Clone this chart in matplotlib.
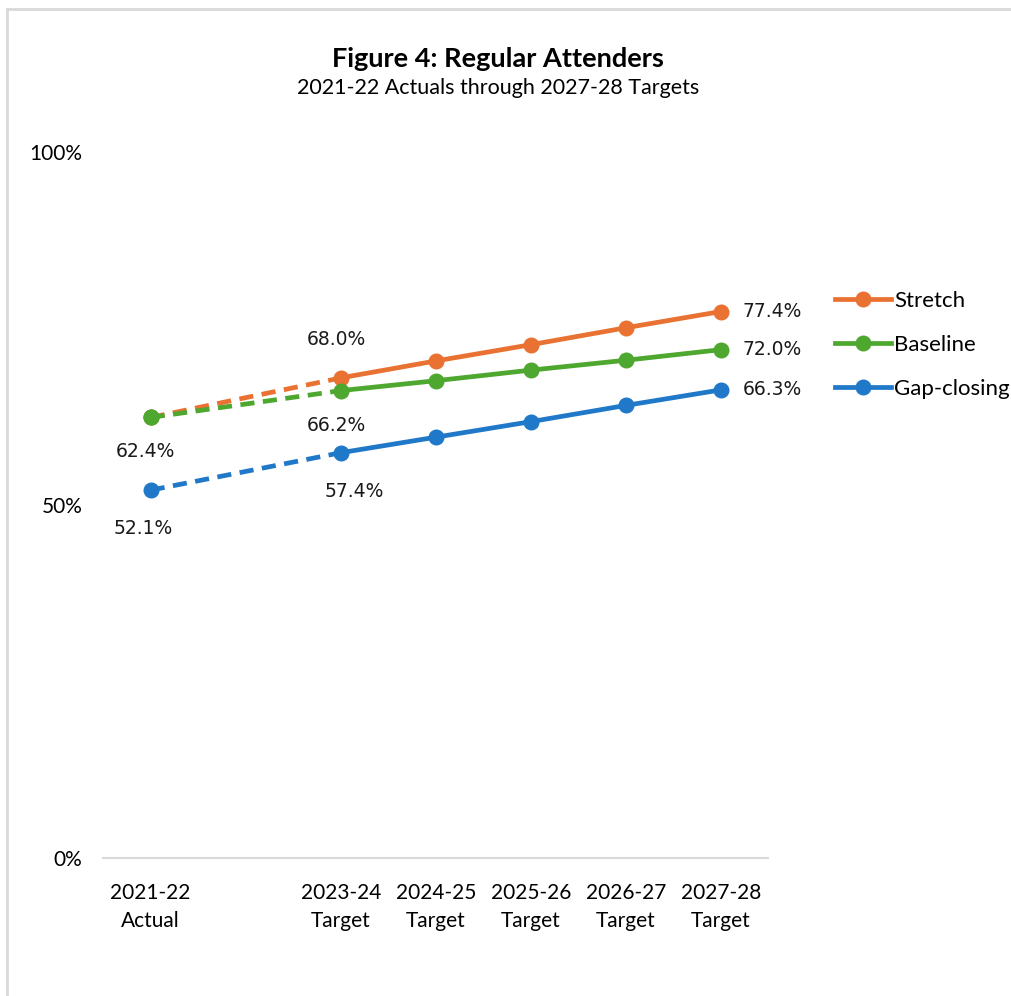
import matplotlib
matplotlib.use("Agg")
import matplotlib.pyplot as plt
from matplotlib.lines import Line2D

years = ["2021-22\nActual", "2023-24\nTarget", "2024-25\nTarget",
         "2025-26\nTarget", "2026-27\nTarget", "2027-28\nTarget"]
x_pos = [0, 2, 3, 4, 5, 6]
stretch = [62.4, 68.0, 70.4, 72.7, 75.1, 77.4]
baseline = [62.4, 66.2, 67.6, 69.1, 70.5, 72.0]
gap_closing = [52.1, 57.4, 59.6, 61.8, 64.1, 66.3]

series = [("Stretch", stretch, "#E97132"),
          ("Baseline", baseline, "#4EA72E"),
          ("Gap-closing", gap_closing, "#1F78C8")]

narrow = ["Lato", "DejaVu Sans"]
labfont = ["DejaVu Sans"]

fig = plt.figure(figsize=(10.11, 9.96), dpi=100)
ax = fig.add_axes([0.102, 0.1386, 0.658, 0.7088])

handles = []
for name, vals, col in series:
    # dashed link from the actual year to the first target
    ax.plot(x_pos[:2], vals[:2], color=col, lw=3.4, ls=(0, (3.0, 1.8)),
            dash_capstyle="butt", zorder=2)
    ax.plot(x_pos[1:], vals[1:], color=col, lw=3.4, zorder=3)
    ax.plot(x_pos, vals, ls="none", marker="o", ms=10.5, color=col, zorder=4)
    handles.append(Line2D([], [], color=col, lw=3.4, marker="o", ms=10.5))

# green actual point sits on top of orange
ax.plot([x_pos[0]], [baseline[0]], ls="none", marker="o", ms=10.5,
        color="#4EA72E", zorder=5)

lab = dict(fontsize=13.5, family=labfont, color="#1a1a1a")
ax.annotate(f"{baseline[0]:.1f}%", (x_pos[0], baseline[0]), xytext=(-5, -34),
            textcoords="offset pixels", ha="center", va="center", **lab)
ax.annotate(f"{gap_closing[0]:.1f}%", (x_pos[0], gap_closing[0]), xytext=(-7, -38),
            textcoords="offset pixels", ha="center", va="center", **lab)
ax.annotate(f"{stretch[1]:.1f}%", (x_pos[1], stretch[1]), xytext=(-4, 38),
            textcoords="offset pixels", ha="center", va="center", **lab)
ax.annotate(f"{baseline[1]:.1f}%", (x_pos[1], baseline[1]), xytext=(-4, -35),
            textcoords="offset pixels", ha="center", va="center", **lab)
ax.annotate(f"{gap_closing[1]:.1f}%", (x_pos[1], gap_closing[1]), xytext=(14, -39),
            textcoords="offset pixels", ha="center", va="center", **lab)
for name, vals, col in series:
    ax.annotate(f"{vals[-1]:.1f}%", (x_pos[-1], vals[-1]), xytext=(22, 0),
                textcoords="offset pixels", ha="left", va="center", **lab)

ax.set_xlim(-0.5, 6.5)
ax.set_ylim(0, 100)
ax.set_yticks([0, 50, 100])
ax.set_yticklabels(["0%", "50%", "100%"], family=narrow, fontsize=15)
ax.set_xticks(x_pos)
ax.set_xticklabels(years, family=narrow, fontsize=15, linespacing=1.53)
ax.tick_params(axis="x", length=0, pad=18)
ax.tick_params(axis="y", length=0, pad=15)
for s in ["top", "right", "left"]:
    ax.spines[s].set_visible(False)
ax.spines["bottom"].set_color("#d9d9d9")
ax.spines["bottom"].set_linewidth(1.5)

leg = fig.legend(handles, [s[0] for s in series], loc="upper left",
                 bbox_to_anchor=(835 / 1011, 1 - 291 / 996), frameon=False,
                 prop={"family": narrow, "size": 16}, handlelength=2.5,
                 handletextpad=0.15, labelspacing=1.07, borderpad=0,
                 borderaxespad=0)

fig.text(0.4926, 1 - 67 / 996, "Figure 4: Regular Attenders", ha="center",
         va="baseline", fontsize=19.5, fontweight="bold", family=narrow)
fig.text(0.4926, 1 - 94 / 996, "2021-22 Actuals through 2027-28 Targets",
         ha="center", va="baseline", fontsize=15.5, family=narrow)

# outer chart border (left and top edges visible)
fig.add_artist(Line2D([0.0069, 0.0069], [0, 0.9905], color="#d9d9d9", lw=2,
                      transform=fig.transFigure))
fig.add_artist(Line2D([0.0069, 1], [0.9905, 0.9905], color="#d9d9d9", lw=2,
                      transform=fig.transFigure))

fig.savefig("out.png", dpi=100)
